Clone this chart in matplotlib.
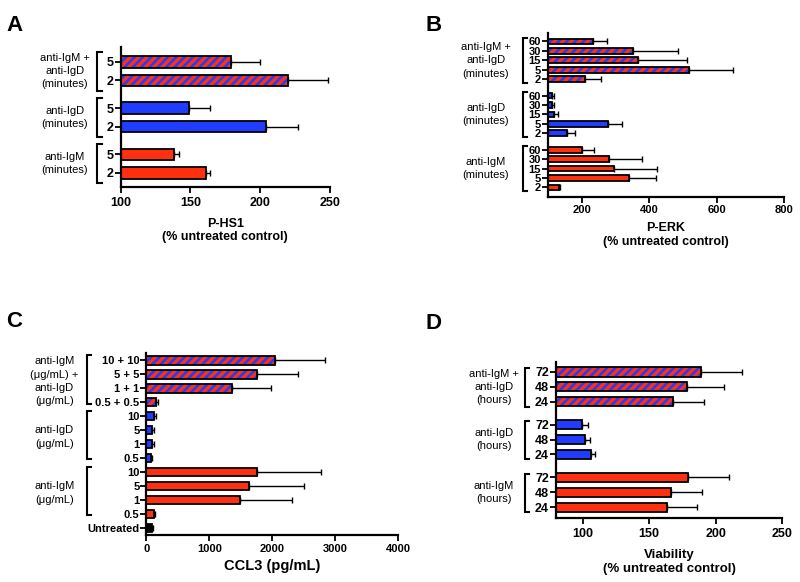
import numpy as np
import matplotlib
matplotlib.use("Agg")
import matplotlib.pyplot as plt
from matplotlib import transforms

plt.rcParams['font.family'] = ['Liberation Sans', 'DejaVu Sans']
plt.rcParams['hatch.linewidth'] = 1.8

RED = '#ff3010'
BLUE = '#1f3cff'

# ---- panel A : P-HS1 ----
a_groups = ["anti-IgM +\nanti-IgD\n(minutes)", "anti-IgD\n(minutes)", "anti-IgM\n(minutes)"]
a_ticks = ["5", "2"]
a_combo = [179, 220]
a_combo_err = [21, 29]
a_igd = [149, 204]
a_igd_err = [15, 23]
a_igm = [138, 161]
a_igm_err = [4, 3]

# ---- panel B : P-ERK ----
b_groups = a_groups
b_ticks = ["60", "30", "15", "5", "2"]
b_combo = [233, 353, 366, 519, 209]
b_combo_err = [42, 133, 145, 131, 47]
b_igd = [111, 112, 119, 277, 155]
b_igd_err = [6, 5, 11, 42, 24]
b_igm = [202, 282, 295, 339, 133]
b_igm_err = [33, 98, 128, 81, 3]

# ---- panel C : CCL3 ----
c_groups = ["anti-IgM\n(\u03bcg/mL) +\nanti-IgD\n(\u03bcg/mL)", "anti-IgD\n(\u03bcg/mL)", "anti-IgM\n(\u03bcg/mL)"]
c_combo_ticks = ["10 + 10", "5 + 5", "1 + 1", "0.5 + 0.5"]
c_single_ticks = ["10", "5", "1", "0.5"]
c_combo = [2037, 1762, 1365, 159]
c_combo_err = [794, 645, 619, 26]
c_igd = [122, 95, 95, 69]
c_igd_err = [37, 21, 21, 21]
c_igm = [1762, 1624, 1492, 122]
c_igm_err = [1005, 873, 820, 16]
c_untreated = [90]
c_untreated_err = [16]

# ---- panel D : viability ----
d_groups = ["anti-IgM +\nanti-IgD\n(hours)", "anti-IgD\n(hours)", "anti-IgM\n(hours)"]
d_ticks = ["72", "48", "24"]
d_combo = [189, 178, 168]
d_combo_err = [31, 28, 23]
d_igd = [99.5, 102, 106]
d_igd_err = [4.5, 3.5, 3]
d_igm = [179, 166, 163]
d_igm_err = [31, 24, 23]

fig = plt.figure(figsize=(8, 5.82), dpi=100)


def panel(rect, series, xlim, xticks, xlabel, gap, pad, tick_fs, xtick_fs, lab_fs,
          grp_fs, br_x, lab_x, br_ext, labelpad=8, xpad=3.5):
    # series: list of (ticklabels, values, errors, style, group label or None)
    ax = fig.add_axes(rect)
    ys, labels = [], []
    y = 0
    spans = []
    for k, (tl, vals, errs, style, glab) in enumerate(series):
        if k > 0:
            y += gap
        yy = []
        for t, v, e in zip(tl, vals, errs):
            yy.append(y)
            ys.append(y)
            labels.append(t)
            left = xlim[0]
            if style == 'hatch':
                ax.barh(y, v - left, left=left, height=0.62, color=RED, edgecolor=BLUE,
                        hatch='////', linewidth=0, zorder=2)
                ax.barh(y, v - left, left=left, height=0.62, fill=False,
                        edgecolor='black', linewidth=1.3, zorder=3)
            else:
                ax.barh(y, v - left, left=left, height=0.62, color=style,
                        edgecolor='black', linewidth=1.3, zorder=2)
            ax.errorbar(v, y, xerr=[[0], [e]], fmt='none', ecolor='black',
                        elinewidth=1.0, capsize=2.5, capthick=1.0, zorder=1)
            y += 1
        spans.append((yy[0], yy[-1], glab))
    ax.set_ylim(ys[-1] + pad[1], -pad[0])
    ax.set_xlim(*xlim)
    ax.set_xticks(xticks)
    ax.set_yticks(ys)
    ax.set_yticklabels(labels, fontweight='bold', fontsize=tick_fs)
    ax.tick_params(axis='x', labelsize=xtick_fs, width=1.3, length=4, pad=xpad)
    ax.tick_params(axis='y', width=1.3, length=4, pad=1)
    for lab in ax.get_xticklabels():
        lab.set_fontweight('bold')
    ax.set_xlabel(xlabel, fontweight='bold', fontsize=lab_fs, labelpad=labelpad)
    for s in ['top', 'right']:
        ax.spines[s].set_visible(False)
    for s in ['left', 'bottom']:
        ax.spines[s].set_linewidth(1.6)

    # brackets and group labels, offsets in pixels left of the y axis
    w = rect[2] * 800
    tr = transforms.blended_transform_factory(ax.transAxes, ax.transData)
    for y0, y1, glab in spans:
        if glab is None:
            continue
        top, bot = y0 - br_ext[0], y1 + br_ext[1]
        xa, xb = -br_x[0] / w, -br_x[1] / w
        ax.plot([xb, xa, xa, xb], [top, top, bot, bot], color='black', lw=1.5,
                transform=tr, clip_on=False, solid_joinstyle='miter')
        ax.text(-lab_x / w, (y0 + y1) / 2, glab, transform=tr, ha='center',
                va='center', fontsize=grp_fs, multialignment='center', linespacing=1.4)
    return ax


panel([0.151, 0.679, 0.261, 0.240],
      [(a_ticks, a_combo, a_combo_err, 'hatch', a_groups[0]),
       (a_ticks, a_igd, a_igd_err, BLUE, a_groups[1]),
       (a_ticks, a_igm, a_igm_err, RED, a_groups[2])],
      (100, 250), [100, 150, 200, 250], "P-HS1\n(% untreated control)",
      gap=0.5, pad=(0.8, 0.75), tick_fs=9, xtick_fs=9, lab_fs=9, grp_fs=8,
      br_x=(24, 19), lab_x=56, br_ext=(0.55, 0.55), labelpad=6)

panel([0.685, 0.662, 0.295, 0.281],
      [(b_ticks, b_combo, b_combo_err, 'hatch', b_groups[0]),
       (b_ticks, b_igd, b_igd_err, BLUE, b_groups[1]),
       (b_ticks, b_igm, b_igm_err, RED, b_groups[2])],
      (100, 800), [200, 400, 600, 800], "P-ERK\n(% untreated control)",
      gap=0.72, pad=(0.88, 0.98), tick_fs=8, xtick_fs=8, lab_fs=9, grp_fs=8,
      br_x=(25, 21), lab_x=62, br_ext=(0.35, 0.4), labelpad=5, xpad=2)

panel([0.183, 0.081, 0.315, 0.312],
      [(c_combo_ticks, c_combo, c_combo_err, 'hatch', c_groups[0]),
       (c_single_ticks, c_igd, c_igd_err, BLUE, c_groups[1]),
       (c_single_ticks, c_igm, c_igm_err, RED, c_groups[2]),
       (["Untreated"], c_untreated, c_untreated_err, 'black', None)],
      (0, 4000), [0, 1000, 2000, 3000, 4000], "CCL3 (pg/mL)",
      gap=0, pad=(0.5, 0.5), tick_fs=8, xtick_fs=8, lab_fs=10.5, grp_fs=8,
      br_x=(59, 55), lab_x=92, br_ext=(0.38, 0.1), labelpad=4, xpad=2.5)

panel([0.695, 0.110, 0.283, 0.268],
      [(d_ticks, d_combo, d_combo_err, 'hatch', d_groups[0]),
       (d_ticks, d_igd, d_igd_err, BLUE, d_groups[1]),
       (d_ticks, d_igm, d_igm_err, RED, d_groups[2])],
      (80, 250), [100, 150, 200, 250], "Viability\n(% untreated control)",
      gap=0.55, pad=(0.67, 0.73), tick_fs=9, xtick_fs=9, lab_fs=9.5, grp_fs=8,
      br_x=(31, 27), lab_x=62, br_ext=(0.25, 0.33), labelpad=6)

for letter, x, y in [("A", 0.008, 0.975), ("B", 0.532, 0.975),
                     ("C", 0.008, 0.465), ("D", 0.532, 0.462)]:
    fig.text(x, y, letter, fontsize=16, fontweight='bold', va='top', ha='left')

fig.savefig("out.png", dpi=100)
